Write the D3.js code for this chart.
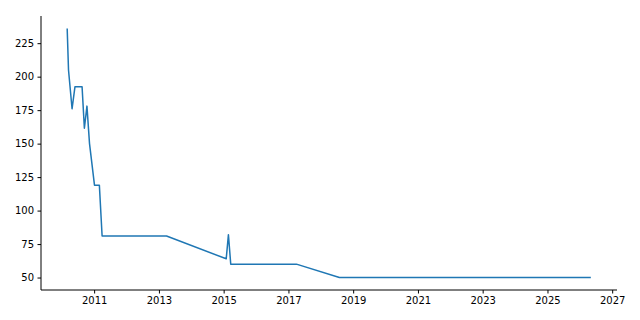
<!DOCTYPE html>
<html>
<head>
<meta charset="utf-8">
<script src="https://cdn.jsdelivr.net/npm/d3@7"></script>
<style>
  body { margin: 0; background: #fff; }
  svg text { font-family: "DejaVu Sans", sans-serif; font-size: 10px; fill: #000; }
</style>
</head>
<body>
<div class="chart"></div>
<script>
// dates and values
var dates = ["2010-03-03", "2010-03-18", "2010-04-27", "2010-05-30", "2010-08-18", "2010-09-13",
             "2010-10-12", "2010-11-10", "2011-01-05", "2011-03-01", "2011-04-01", "2013-03-28",
             "2015-01-30", "2015-02-24", "2015-03-22", "2017-04-01", "2018-07-30", "2026-05-05"];
var values = [236, 205, 176, 192.5, 192.5, 161.5,
              178, 150, 119, 119, 81, 81,
              64, 82, 60, 60, 50, 50];
var yTicks = [50, 75, 100, 125, 150, 175, 200, 225];
var xTickYears = [2011, 2013, 2015, 2017, 2019, 2021, 2023, 2025, 2027];

var parseD = d3.timeParse("%Y-%m-%d");
var data = dates.map(function(d, i) { return { date: parseD(d), value: values[i] }; });

var w = 640, h = 320;
var margin = { left: 41, right: 617, top: 16, bottom: 290 };

var svg = d3.select("div.chart").append("svg")
  .attr("width", w)
  .attr("height", h);

// matplotlib style 5% margins
var xExt = d3.extent(data, function(d) { return d.date; });
var span = xExt[1] - xExt[0];
var x = d3.scaleTime()
  .domain([new Date(+xExt[0] - span * 0.05), new Date(+xExt[1] + span * 0.05)])
  .range([margin.left, margin.right]);

var yMin = d3.min(values), yMax = d3.max(values);
var yPad = (yMax - yMin) * 0.05;
var y = d3.scaleLinear()
  .domain([yMin - yPad, yMax + yPad])
  .range([margin.bottom, margin.top]);

var line = d3.line()
  .x(function(d) { return x(d.date); })
  .y(function(d) { return y(d.value); });

svg.append("path")
  .attr("fill", "none")
  .attr("stroke", "#1f77b4")
  .attr("stroke-width", 1.5)
  .attr("stroke-linejoin", "round")
  .attr("d", line(data));

var xAxis = d3.axisBottom(x)
  .tickValues(xTickYears.map(function(yr) { return new Date(yr, 0, 1); }))
  .tickFormat(d3.timeFormat("%Y"))
  .tickSize(3.5)
  .tickPadding(3.5);

var yAxis = d3.axisLeft(y)
  .tickValues(yTicks)
  .tickSize(3.5)
  .tickPadding(3.5);

var gx = svg.append("g")
  .attr("class", "x axis")
  .attr("transform", "translate(0," + margin.bottom + ")")
  .call(xAxis);
gx.select(".domain").attr("d", "M" + margin.left + ",0H" + margin.right);

var gy = svg.append("g")
  .attr("class", "y axis")
  .attr("transform", "translate(" + margin.left + ",0)")
  .call(yAxis);
gy.select(".domain").attr("d", "M0," + margin.top + "V" + margin.bottom);

svg.selectAll(".domain").attr("stroke", "#000").attr("stroke-width", 1);
svg.selectAll(".tick line").attr("stroke", "#000").attr("stroke-width", 1);
svg.selectAll(".tick text").attr("font-family", "DejaVu Sans").attr("font-size", 10);
</script>
</body>
</html>
